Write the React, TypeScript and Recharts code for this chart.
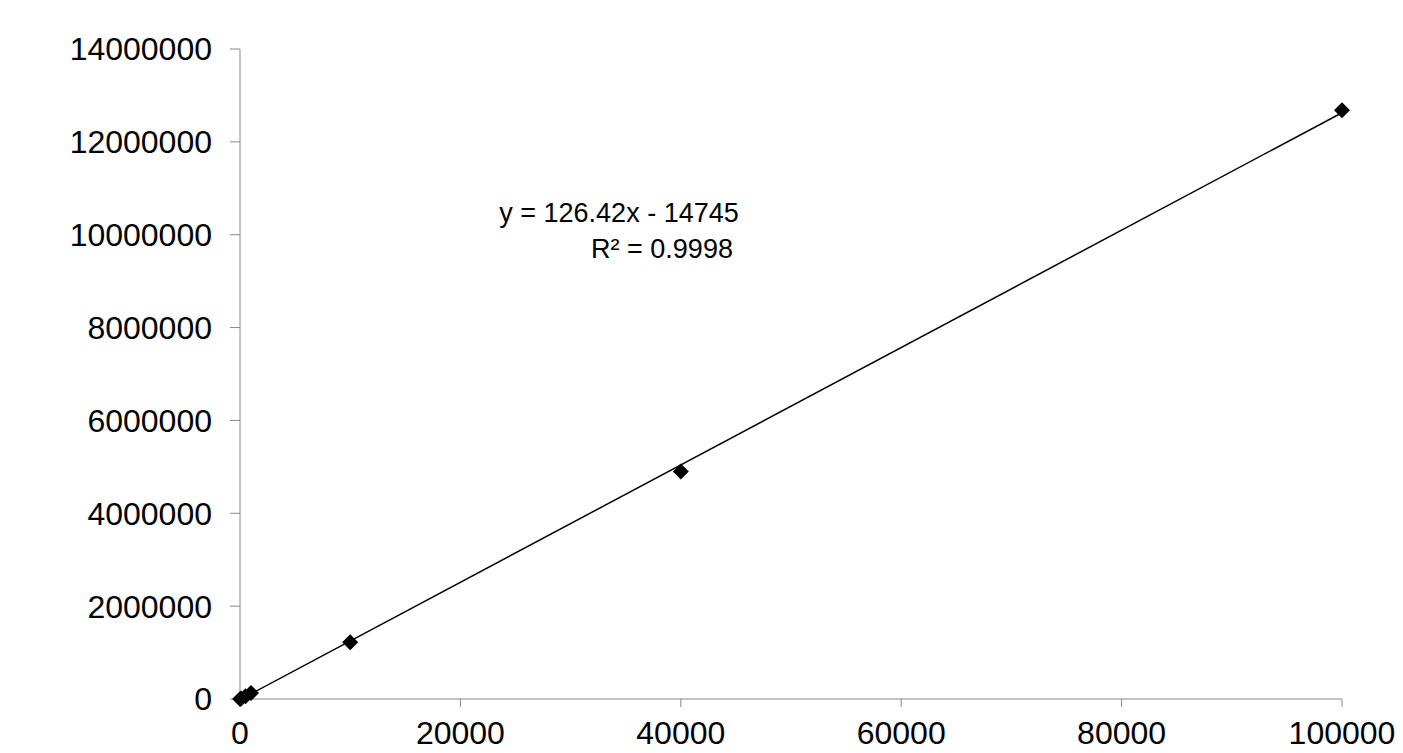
import React from "react";
import { ComposedChart, Scatter, Line, XAxis, YAxis } from "recharts";

const points = [
  { x: 10, y: 2000 },
  { x: 100, y: 12000 },
  { x: 500, y: 60000 },
  { x: 1000, y: 130000 },
  { x: 10000, y: 1220000 },
  { x: 40000, y: 4900000 },
  { x: 100000, y: 12680000 },
];
const trend = [
  { x: 117, y: 0 },
  { x: 100000, y: 12627255 },
];
const xTicks = [0, 20000, 40000, 60000, 80000, 100000];
const yTicks = [0, 2000000, 4000000, 6000000, 8000000, 10000000, 12000000, 14000000];

const Diamond = (p: any) => {
  const { cx, cy } = p;
  const s = 8;
  return <polygon points={`${cx},${cy - s} ${cx + s},${cy} ${cx},${cy + s} ${cx - s},${cy}`} fill="#000" />;
};

export default function App() {
  const ff = "Liberation Sans, Arial, sans-serif";
  const tick = { fontFamily: ff, fontSize: 32, fill: "#000" };
  return (
    <div style={{ position: "relative", width: 1395, height: 745 }}>
      <ComposedChart width={1395} height={745} margin={{ top: 41, right: 61, bottom: 0, left: 0 }}>
        <XAxis type="number" dataKey="x" domain={[0, 100000]} ticks={xTicks} tick={tick} fontSize={32} stroke="#888" tickSize={8} height={54} tickMargin={14} />
        <YAxis type="number" dataKey="y" domain={[0, 14000000]} ticks={yTicks} tick={tick} fontSize={32} stroke="#888" tickSize={10} width={232} tickMargin={18} />
        <Line data={trend} dataKey="y" stroke="#000" strokeWidth={1.5} dot={false} isAnimationActive={false} />
        <Scatter data={points} dataKey="y" shape={<Diamond />} isAnimationActive={false} />
      </ComposedChart>
      <svg style={{ position: "absolute", left: 0, top: 0 }} width={1395} height={745} pointerEvents="none">
        <text x={611} y={214} textAnchor="middle" fontFamily={ff} fontSize={27} fill="#000">y = 126.42x - 14745</text>
        <text x={654} y={250} textAnchor="middle" fontFamily={ff} fontSize={27} fill="#000">R² = 0.9998</text>
      </svg>
    </div>
  );
}
